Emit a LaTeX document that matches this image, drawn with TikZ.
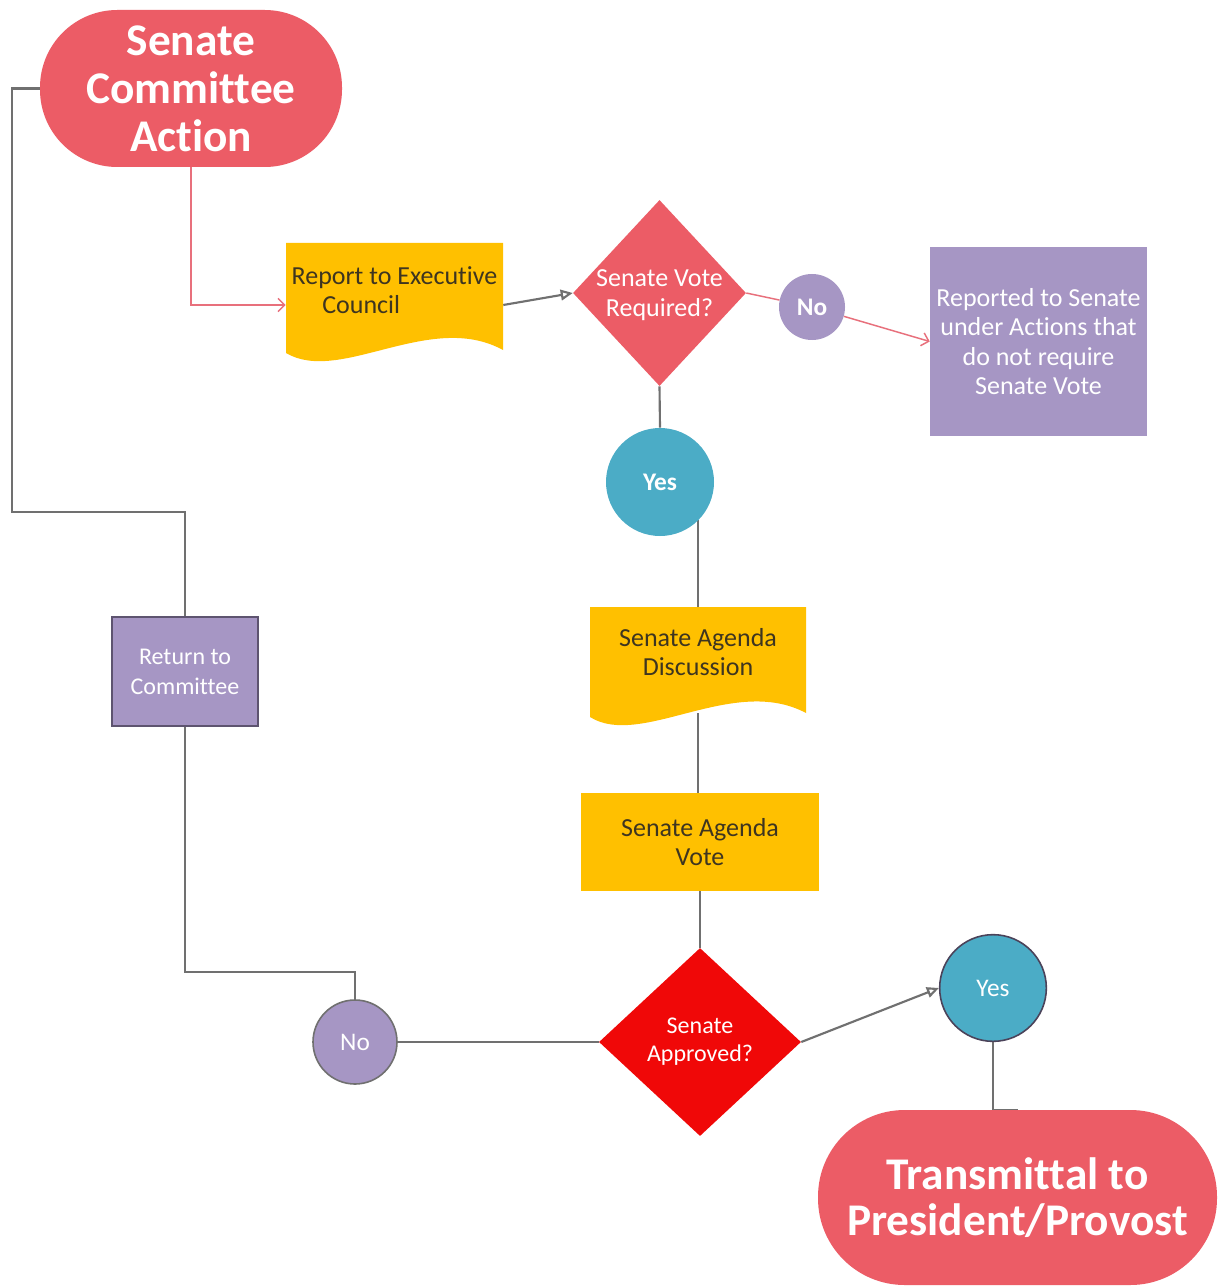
\documentclass[tikz,border=0pt]{standalone}
\usepackage{fontspec}
\setmainfont[Ligatures=NoCommon]{Carlito}
\usetikzlibrary{shapes.geometric,arrows.meta,backgrounds,calc}
\definecolor{cred}{HTML}{EC5C66}
\definecolor{cred2}{HTML}{F00808}
\definecolor{cyel}{HTML}{FFC000}
\definecolor{cpur}{HTML}{A696C4}
\definecolor{cteal}{HTML}{4BACC6}
\definecolor{cline}{HTML}{707070}
\definecolor{cpink}{HTML}{E8707C}
\definecolor{ctext}{HTML}{3E3520}
\definecolor{cborder}{HTML}{5E5470}
\begin{document}
\begin{tikzpicture}[x=0.75pt,y=-0.75pt,
  term/.style={rectangle, fill=cred, text=white, align=center, inner sep=0pt},
  docnode/.style={rectangle, draw=none, inner sep=0pt},
  doclabel/.style={text=ctext, font=\fontsize{19.5}{22}\selectfont, align=center, inner sep=0pt},
  procy/.style={rectangle, fill=cyel, text=ctext, font=\fontsize{19.5}{21.5}\selectfont, align=center, inner sep=0pt},
  procp/.style={rectangle, fill=cpur, text=white, font=\fontsize{19.5}{22}\selectfont, align=center, inner sep=0pt},
  dia/.style={diamond, inner sep=0pt},
  dialabel/.style={text=white, align=center, inner sep=0pt},
  circ/.style={circle, inner sep=0pt, text=white, font=\fontsize{19}{22}\selectfont},
  grayline/.style={draw=cline, line width=1.6pt},
  pinkline/.style={draw=cpink, line width=1.1pt},
  opentip/.style={-{Triangle[open,length=9pt,width=8pt]}},
  barbtip/.style={-{Straight Barb[length=5pt,width=10pt]}}
]
\useasboundingbox (0,0) rectangle (1217,1287);

% terminals
\node[term, minimum width=226.5pt, minimum height=117.75pt, rounded corners=58pt,
      font=\bfseries\fontsize{34}{36}\selectfont] (start) at (191,88.5) {Senate\\Committee\\Action};
\node[term, minimum width=299.25pt, minimum height=131.25pt, rounded corners=65pt,
      font=\bfseries\fontsize{34}{34.5}\selectfont] (end) at (1017.5,1197.5) {Transmittal to\\President/Provost};

% document shapes
\fill[cyel] (286,243) -- (503,243) -- (503,350) .. controls (430,310) and (340,385) .. (286,353) -- cycle;
\node[docnode, minimum width=162.75pt, minimum height=93pt,
      label={[doclabel, align=left, yshift=11.25pt]center:{Report to Executive\\\hspace*{23pt}Council}}] (rep) at (394.5,305) {};
\fill[cyel] (590,607) -- (806,607) -- (806,713) .. controls (733,674) and (641,749) .. (590,717) -- cycle;
\node[docnode, minimum width=162pt, minimum height=79.5pt,
      label={[doclabel, yshift=6pt]center:{Senate Agenda\\Discussion}}] (disc) at (698,660) {};

% process boxes
\node[procy, minimum width=178.5pt, minimum height=73.5pt] (vote) at (700,842) {Senate Agenda\\Vote};
\node[procp, minimum width=162.75pt, minimum height=141.75pt] (box1) at (1038.5,341.5)
  {Reported to Senate\\under Actions that\\do not require\\Senate Vote};
\node[procp, draw=cborder, line width=1.5pt, minimum width=109.5pt, minimum height=81.75pt,
      font=\fontsize{18}{22.5}\selectfont] (ret) at (185,671.5) {Return to\\Committee};

% decisions
\node[dia, fill=cred, minimum width=129.75pt, minimum height=139.5pt,
      label={[dialabel, font=\fontsize{19.5}{22.5}\selectfont, yshift=-1.5pt]center:{Senate Vote\\Required?}}] (d1) at (659.5,293) {};
\node[dia, fill=cred2, minimum width=151.5pt, minimum height=141pt,
      label={[dialabel, font=\fontsize{18}{21}\selectfont]center:{Senate\\Approved?}}] (d2) at (700,1042) {};

% circles
\node[circ, fill=cteal, minimum size=81pt, font=\bfseries\fontsize{19}{22}\selectfont] (yes1) at (660,482) {Yes};
\node[circ, fill=cpur, minimum size=49.5pt, font=\bfseries\fontsize{19}{22}\selectfont] (no1) at (812,307) {No};
\node[circ, fill=cteal, draw=cborder!80!black, line width=1.2pt, minimum size=80pt] (yes2) at (993,988) {Yes};
\node[circ, fill=cpur, draw=cline, line width=1.2pt, minimum size=63pt] (no2) at (355,1042) {No};

\coordinate (lpa) at (12,512);
\coordinate (lpb) at (185,972);

\begin{scope}[on background layer]
\fill[white] (0,0) rectangle (1217,1287);
\draw[pinkline, barbtip] (start.south) |- (rep.west);
\draw[grayline, opentip] (rep.east) -- (d1.west);
\draw[pinkline] (d1.east) -- (no1);
\draw[pinkline, barbtip] (no1) -- (box1.west);
\draw[grayline] (d1.south) -- (yes1.north);
\draw[grayline] (yes1.-45) -- (yes1.-45 |- disc.north);
\draw[grayline] (disc.south) -- (disc.south |- vote.north);
\draw[grayline] (vote.south) -- (d2.north);
\draw[grayline] (d2.west) -- (no2.east);
\draw[grayline, opentip] (d2.east) -- (yes2.west);
\draw[grayline] (yes2.south) |- (end.north);
\draw[grayline] (start.west) -| (lpa) -| (ret.north);
\draw[grayline] (ret.south) -- (lpb) -| (no2.north);
\end{scope}
\end{tikzpicture}
\end{document}
